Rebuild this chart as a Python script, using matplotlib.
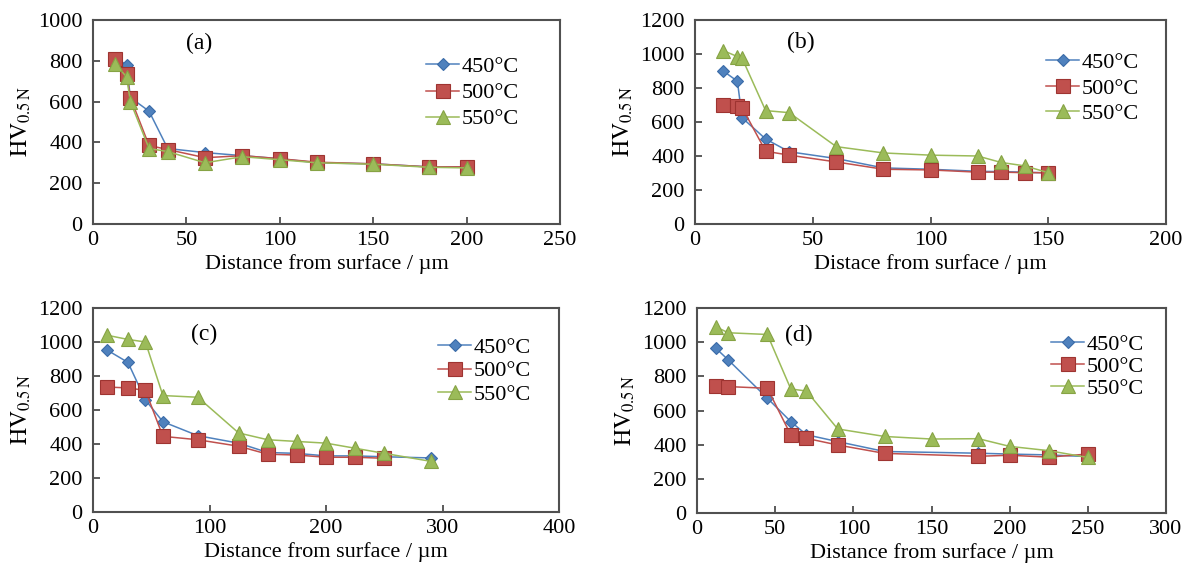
import matplotlib
matplotlib.use("Agg")
import matplotlib.pyplot as plt

plt.rcParams['font.family'] = ['Liberation Serif', 'DejaVu Serif']
plt.rcParams['mathtext.fontset'] = 'stix'

# ---- data ----
labels = ["450°C", "500°C", "550°C"]

# (a)
a_x450 = [12, 18, 20, 30, 40, 60, 80, 100, 120, 150, 180, 200]
a_y450 = [815, 780, 620, 553, 370, 350, 335, 320, 300, 295, 280, 280]
a_x500 = [12, 18, 20, 30, 40, 60, 80, 100, 120, 150, 180, 200]
a_y500 = [810, 735, 620, 385, 365, 325, 335, 320, 303, 295, 280, 280]
a_x550 = [12, 18, 20, 30, 40, 60, 80, 100, 120, 150, 180, 200]
a_y550 = [785, 720, 600, 370, 355, 300, 330, 315, 300, 293, 278, 275]

# (b)
b_x450 = [12, 18, 20, 30, 40, 60, 80, 100, 120, 130, 140, 150]
b_y450 = [900, 840, 625, 500, 425, 385, 330, 322, 310, 308, 305, 300]
b_x500 = [12, 18, 20, 30, 40, 60, 80, 100, 120, 130, 140, 150]
b_y500 = [700, 695, 685, 428, 405, 365, 322, 318, 305, 305, 302, 302]
b_x550 = [12, 18, 20, 30, 40, 60, 80, 100, 120, 130, 140, 150]
b_y550 = [1020, 985, 975, 667, 655, 455, 418, 405, 400, 362, 342, 302]

# (c)
c_x450 = [12, 30, 45, 60, 90, 125, 150, 175, 200, 225, 250, 290]
c_y450 = [953, 880, 659, 531, 449, 405, 350, 345, 330, 330, 325, 318]
c_x500 = [12, 30, 45, 60, 90, 125, 150, 175, 200, 225, 250]
c_y500 = [735, 730, 715, 445, 425, 387, 340, 335, 322, 322, 316]
c_x550 = [12, 30, 45, 60, 90, 125, 150, 175, 200, 225, 250, 290]
c_y550 = [1040, 1015, 1000, 685, 675, 465, 425, 415, 405, 375, 345, 298]

# (d)
d_x450 = [12, 20, 45, 60, 70, 90, 120, 180, 200, 225, 250]
d_y450 = [965, 896, 672, 535, 458, 418, 360, 350, 345, 340, 330]
d_x500 = [12, 20, 45, 60, 70, 90, 120, 180, 200, 225, 250]
d_y500 = [745, 740, 730, 457, 437, 398, 349, 332, 338, 327, 345]
d_x550 = [12, 20, 45, 60, 70, 90, 120, 150, 180, 200, 225, 250]
d_y550 = [1090, 1055, 1045, 726, 714, 492, 448, 433, 435, 390, 365, 325]

panels = [
    dict(tag="(a)", xs=(a_x450, a_x500, a_x550), ys=(a_y450, a_y500, a_y550),
         xlim=250, xstep=50, ylim=1000, xlabel="Distance from surface / µm"),
    dict(tag="(b)", xs=(b_x450, b_x500, b_x550), ys=(b_y450, b_y500, b_y550),
         xlim=200, xstep=50, ylim=1200, xlabel="Distace from surface / µm"),
    dict(tag="(c)", xs=(c_x450, c_x500, c_x550), ys=(c_y450, c_y500, c_y550),
         xlim=400, xstep=100, ylim=1200, xlabel="Distance from surface / µm"),
    dict(tag="(d)", xs=(d_x450, d_x500, d_x550), ys=(d_y450, d_y500, d_y550),
         xlim=300, xstep=50, ylim=1200, xlabel="Distance from surface / µm"),
]

colors = ["#4F81BD", "#C0504D", "#9BBB59"]
edges = ["#3A6BA8", "#9E3431", "#86A344"]
markers = ["D", "s", "^"]
msizes = [6.5, 10, 9.5]

W, H = 1190, 572
fig = plt.figure(figsize=(W / 100, H / 100), dpi=100)

# axes rectangles in pixel coords: left, top, right, bottom
rects = [(93, 20, 560, 224), (695, 20, 1166, 224),
         (93, 308, 559, 512), (697, 308, 1166, 513)]
tagpos = [(0.227, 0.887), (0.225, 0.89), (0.238, 0.868), (0.217, 0.868)]
legpos = [(0.713, 0.82), (0.745, 0.84), (0.74, 0.855), (0.755, 0.87)]
legspace = [0.25, 0.22, 0.12, 0.05]

for p, r, tp, lp, ls in zip(panels, rects, tagpos, legpos, legspace):
    l, t, rr, b = r
    ax = fig.add_axes([l / W, 1 - b / H, (rr - l) / W, (b - t) / H])
    for i in range(3):
        ax.plot(p["xs"][i], p["ys"][i], color=colors[i], lw=1.1,
                marker=markers[i], ms=msizes[i], mfc=colors[i], mec=edges[i],
                mew=0.8, label=labels[i])
    ax.set_xlim(0, p["xlim"])
    ax.set_ylim(0, p["ylim"])
    ax.set_xticks(range(0, p["xlim"] + 1, p["xstep"]))
    ax.set_yticks(range(0, p["ylim"] + 1, 200))
    ax.tick_params(direction="in", length=5, width=1.2, labelsize=16,
                   color="#404040")
    ax.tick_params(axis="x", pad=5)
    ax.tick_params(axis="y", pad=7.5)
    for s in ax.spines.values():
        s.set_color("#505050")
        s.set_linewidth(1.5)
    ax.set_xlabel(p["xlabel"], fontsize=16, labelpad=3)
    ax.set_ylabel(r"$\mathrm{HV}_{\mathrm{0.5\,N}}$", fontsize=17, labelpad=4)
    ax.text(tp[0], tp[1], p["tag"], transform=ax.transAxes, fontsize=17,
            ha="center", va="center")
    ax.legend(loc="upper left", bbox_to_anchor=lp, frameon=False,
              fontsize=16, handlelength=1.5, handletextpad=0.1,
              borderaxespad=0, borderpad=0, labelspacing=ls)

fig.savefig("out.png", dpi=100)
